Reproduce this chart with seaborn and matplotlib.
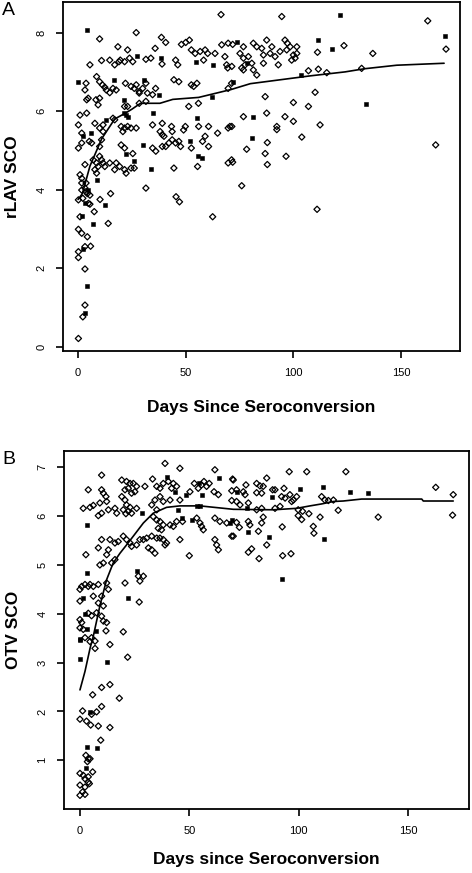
import numpy as np
import pandas as pd
import matplotlib
matplotlib.use("Agg")
import matplotlib.pyplot as plt
import seaborn as sns

# Panel A - rLAV SCO vs days since seroconversion
a_open = [
    (10, 7.84), (27, 8.0), (38.7, 7.88), (40.7, 7.75), (66.4, 8.46), (35.8, 7.6), (48, 7.7), (50, 7.75),
    (51.7, 7.81), (18.5, 7.64), (23, 7.56), (31.5, 7.32), (33.8, 7.35), (39, 7.2), (45.3, 7.3), (46.3, 7.18),
    (52.6, 7.56), (54.4, 7.47), (56.7, 7.52), (59, 7.56), (60.2, 7.47), (58.3, 7.3), (63.6, 7.47), (66.7, 7.69),
    (69.7, 7.73), (69, 7.18), (69.5, 7.1), (68.2, 7.39), (5.5, 7.18), (10.9, 7.29), (14.7, 7.3), (17, 7.18),
    (19, 7.26), (19.6, 7.3), (21.6, 7.26), (23.9, 7.35), (25.4, 7.26), (3.7, 6.71), (3.2, 6.54), (8.6, 6.88),
    (10, 6.75), (11.3, 6.67), (12.4, 6.61), (13.1, 6.54), (14.7, 6.47), (16.2, 6.58), (4, 6.29), (4.7, 6.33),
    (8.3, 6.29), (10, 6.33), (9.3, 6.16), (17.7, 6.54), (22, 6.71), (24.6, 6.63), (26.1, 6.58), (27, 6.67),
    (30, 6.58), (28.4, 6.5), (31.5, 6.71), (28.4, 6.46), (32.2, 6.46), (34.6, 6.42), (36, 6.58), (44.5, 6.8),
    (46.8, 6.75), (52.6, 6.67), (53.7, 6.63), (55.2, 6.71), (69.7, 6.58), (71.3, 6.71), (21.6, 6.12), (23, 6.12),
    (16.2, 5.82), (17, 5.78), (4, 5.95), (0.9, 5.9), (7.8, 5.69), (11.6, 5.65), (0.15, 5.65), (1.7, 5.44),
    (0.15, 5.06), (1.7, 5.19), (5.2, 5.23), (6.3, 5.19), (10, 5.1), (10.9, 5.27), (10, 5.57), (11.6, 5.48),
    (20, 5.61), (21.6, 5.57), (23, 5.61), (24.6, 5.57), (27, 5.57), (20.8, 5.48), (28.4, 6.2), (31.5, 6.25),
    (34.6, 5.65), (39.1, 5.69), (38.1, 5.48), (39.1, 5.4), (39.9, 5.36), (43.4, 5.61), (43.7, 5.48), (49.8, 5.61),
    (49, 5.52), (56, 5.61), (51.4, 6.12), (55.9, 6.2), (60.6, 5.61), (64.8, 5.44), (69.7, 5.57), (70.5, 5.61),
    (59, 5.36), (57.8, 5.23), (60.6, 5.1), (20, 5.14), (21.6, 5.06), (34.6, 5.06), (36.1, 4.98), (39.1, 5.1),
    (40.7, 5.1), (42.2, 5.19), (43.7, 5.27), (45.3, 5.19), (46.8, 5.23), (47.6, 5.1), (52.6, 5.06), (25.4, 4.92),
    (10, 4.85), (10.9, 4.76), (11.6, 4.68), (12.4, 4.59), (7, 4.76), (8.6, 4.68), (9.3, 4.59), (7.8, 4.51),
    (14.7, 4.68), (17.7, 4.68), (17, 4.51), (19.3, 4.59), (21.6, 4.51), (22.3, 4.42), (24.6, 4.55), (26.1, 4.55),
    (3.2, 4.64), (0.9, 4.38), (1.7, 4.29), (3.7, 4.17), (1.7, 4.17), (3.2, 4.04), (8.6, 4.42), (44.5, 4.55),
    (55.5, 4.59), (69.7, 4.68), (71.3, 4.76), (31.5, 4.04), (1.7, 3.99), (3.7, 3.95), (4.3, 3.9), (5.5, 3.86),
    (0.15, 3.74), (2.2, 3.78), (4.8, 3.65), (5.5, 3.63), (10.2, 3.75), (15.1, 3.9), (0.9, 3.31), (7.5, 3.44),
    (14, 3.14), (0.15, 2.99), (1.7, 2.89), (4.3, 2.8), (3.2, 2.55), (5.8, 2.56), (0.15, 2.42), (0.15, 2.27),
    (3.2, 1.98), (3.2, 1.06), (2.2, 0.76), (0.15, 0.21), (45.5, 3.82), (47.1, 3.69), (62.5, 3.31), (111, 3.5),
    (94.6, 8.41), (162.4, 8.3), (170.9, 7.58), (123.5, 7.67), (136.9, 7.47), (111.2, 7.5), (71.8, 7.7),
    (76.8, 7.64), (81.4, 7.73), (83, 7.64), (85.3, 7.6), (87.6, 7.81), (90, 7.64), (96.1, 7.81), (97.2, 7.73),
    (98.5, 7.64), (101.6, 7.64), (96.9, 7.56), (75.2, 7.47), (76.8, 7.35), (79.1, 7.39), (86.1, 7.43),
    (89.2, 7.47), (91.5, 7.39), (93.8, 7.52), (100, 7.43), (101.6, 7.47), (100.8, 7.35), (99.2, 7.3),
    (77.6, 7.18), (80.7, 7.22), (76, 7.1), (76.8, 7.05), (81.4, 7.05), (86.1, 7.22), (93, 7.18), (71.4, 7.14),
    (83, 6.92), (107, 7.03), (111.6, 7.07), (115.5, 6.98), (131.7, 7.09), (86.9, 6.37), (100, 6.22), (107, 6.12),
    (110.1, 6.48), (76.8, 5.86), (87.6, 5.95), (96.1, 5.86), (100, 5.74), (92.3, 5.61), (92.3, 5.53),
    (71.4, 5.61), (112.4, 5.65), (87.9, 5.2), (103.9, 5.34), (78.3, 5.03), (86.9, 4.92), (87.9, 4.64),
    (96.6, 4.85), (71.8, 4.7), (76, 4.1), (166.1, 5.14),
]
a_filled = [
    (4.3, 8.07), (27.2, 7.4), (38.4, 7.35), (54.7, 7.26), (62.8, 7.18), (0.15, 6.75), (16.5, 6.8), (30.4, 6.8),
    (37.6, 6.42), (62, 6.37), (21.1, 6.29), (22.3, 5.9), (21.5, 5.95), (23, 5.85), (2.4, 5.36), (5.8, 5.44),
    (13.1, 5.78), (34.6, 5.95), (55.2, 5.82), (30.3, 5.14), (52.1, 5.23), (22.3, 4.92), (25.8, 4.72), (9, 4.25),
    (33.8, 4.53), (55.5, 4.85), (57.5, 4.8), (4.7, 4.0), (3.2, 3.65), (1.7, 3.33), (7.1, 3.12), (12.5, 3.61),
    (2.5, 2.5), (4.3, 1.54), (3.2, 0.85), (121.7, 8.45), (170.4, 7.92), (111.6, 7.81), (117.8, 7.58),
    (73.7, 7.75), (78.3, 7.22), (103.4, 6.92), (71.8, 6.75), (133.6, 6.18), (81.4, 5.85), (80.7, 5.31),
]
a_curve_days = [0, 2, 5.5, 11, 17, 22, 25, 29, 38, 44, 56, 71, 80, 94, 108, 116, 124, 133, 148, 170]
a_curve_sco = [3.75, 3.9, 4.6, 5.3, 5.8, 5.95, 6.05, 6.2, 6.2, 6.3, 6.35, 6.55, 6.7, 6.8, 6.9, 6.95, 7.0, 7.08, 7.17, 7.22]

# Panel B - OTV SCO vs days since seroconversion
b_open = [
    (38.9, 7.08), (45.7, 6.98), (9.9, 6.84), (3.8, 6.54), (1.5, 6.16), (4.6, 6.18), (6.1, 6.22),
    (9.9, 6.54), (10.7, 6.47), (11.9, 6.4), (12.2, 6.3), (9.1, 6.27), (13, 6.13), (8.4, 6.01), (9.9, 6.06),
    (16, 6.16), (16.8, 6.06), (19.1, 6.74), (21.3, 6.71), (22.9, 6.67), (24.4, 6.67), (25.9, 6.61),
    (22.1, 6.57), (20.6, 6.54), (23.6, 6.47), (25.1, 6.5), (19.1, 6.4), (20.6, 6.33), (21.3, 6.23),
    (22.9, 6.18), (22.1, 6.1), (21, 6.05), (23.6, 6.06), (25.9, 6.16), (19.8, 6.13), (29.7, 6.61),
    (33.2, 6.76), (35.1, 6.61), (36.6, 6.57), (38.1, 6.67), (40.4, 6.71), (42.7, 6.67), (41.9, 6.57),
    (44.2, 6.61), (34.3, 6.33), (36.6, 6.4), (38.1, 6.3), (41.2, 6.33), (32.8, 6.23), (35.1, 6.13),
    (45.7, 6.33), (50.3, 6.5), (52.3, 6.67), (54.1, 6.57), (55.6, 6.64), (56.7, 6.71), (57.9, 6.61),
    (59.1, 6.67), (61.7, 6.95), (61.3, 6.5), (63.3, 6.44), (70.1, 6.74), (71.6, 6.54), (33.5, 5.99),
    (35.1, 5.92), (36.6, 5.89), (38.1, 5.82), (35.8, 5.75), (37.3, 5.72), (41.2, 5.82), (42.7, 5.79),
    (44.2, 5.89), (46.9, 5.89), (54.9, 5.86), (55.6, 5.79), (56.4, 5.72), (53.4, 5.96), (61.7, 5.96),
    (64, 5.89), (67.1, 5.86), (61.7, 5.52), (62.5, 5.41), (63.3, 5.31), (70.1, 5.59), (72.9, 5.77),
    (13.7, 5.52), (16, 5.45), (17.5, 5.48), (13, 5.31), (12.2, 5.21), (8.4, 5.35), (9.9, 5.52), (9.1, 5.0),
    (10.7, 5.04), (14.5, 5.04), (16, 5.11), (19.8, 5.59), (21.3, 5.52), (22.9, 5.45), (23.6, 5.38),
    (25.9, 5.41), (27.4, 5.52), (29, 5.52), (30.5, 5.55), (32.8, 5.59), (35.1, 5.55), (36.6, 5.55),
    (38.1, 5.52), (39.6, 5.45), (38.9, 5.41), (31.3, 5.35), (32.8, 5.31), (34.3, 5.24), (45.7, 5.52),
    (50, 5.19), (2.7, 5.21), (0, 4.5), (0.8, 4.56), (2.3, 4.6), (3.8, 4.56), (4.6, 4.6), (6.1, 4.56),
    (8.4, 4.6), (0, 4.26), (6.1, 4.36), (9.9, 4.36), (12.2, 4.63), (13, 4.5), (20.6, 4.63), (27.1, 4.24),
    (26.7, 4.77), (29, 4.77), (27.4, 4.67), (0, 3.88), (0.8, 3.82), (3.8, 4.01), (5.3, 3.96), (7.6, 4.02),
    (8.4, 4.22), (10.7, 4.16), (9.9, 3.95), (10.7, 3.85), (12.2, 3.82), (0, 3.71), (1.5, 3.68), (11.9, 3.65),
    (19.8, 3.63), (2.3, 3.51), (5.3, 3.51), (6.9, 3.44), (13.7, 3.37), (4.6, 3.43), (6.9, 3.29), (21.8, 3.11),
    (5.8, 2.34), (9.9, 2.49), (13.7, 2.55), (18, 2.27), (1.2, 2.01), (3.0, 1.8), (5.3, 1.94), (7.6, 1.99),
    (9.9, 2.1), (0, 1.84), (4.9, 1.72), (8.4, 1.7), (13.7, 1.67), (9.5, 1.41), (2.7, 1.1), (3.8, 1.03),
    (3.4, 0.97), (4.6, 1.03), (5.8, 0.76), (0, 0.73), (1.5, 0.69), (2.3, 0.62), (3.8, 0.66), (3.8, 0.55),
    (0, 0.49), (2.3, 0.45), (4.3, 0.52), (1.2, 0.35), (0, 0.28), (2.3, 0.3),
    (95.7, 6.91), (103.7, 6.91), (121.6, 6.91), (85.4, 6.78), (69.8, 6.76), (162.7, 6.59), (170.7, 6.44),
    (170.4, 6.02), (69.4, 6.52), (74.7, 6.5), (75.9, 6.64), (75.5, 6.44), (80.8, 6.67), (82.3, 6.62),
    (83.8, 6.61), (83.1, 6.47), (80.8, 6.48), (88.1, 6.54), (89.2, 6.54), (93.3, 6.57), (92.2, 6.4),
    (93.8, 6.37), (96, 6.44), (96.8, 6.3), (97.6, 6.33), (99.1, 6.4), (110.5, 6.4), (112, 6.33),
    (113.6, 6.32), (115.9, 6.33), (69.4, 6.32), (71.6, 6.3), (73.2, 6.23), (77, 6.27), (80.8, 6.13),
    (83.1, 6.16), (89.2, 6.16), (91.5, 6.2), (99.8, 6.13), (101.8, 6.1), (104.7, 6.05), (99.8, 6.01),
    (101.4, 5.93), (109.8, 5.98), (106.7, 5.79), (107, 5.65), (118.1, 6.12), (136.4, 5.98), (71.6, 5.87),
    (77, 5.89), (77.7, 5.82), (83.1, 5.86), (83.8, 5.98), (69.4, 5.59), (81.6, 5.69), (92.5, 5.78),
    (85.4, 5.41), (77, 5.26), (78.5, 5.33), (81.9, 5.13), (92.7, 5.19), (96.5, 5.23),
]
b_filled = [
    (3.0, 5.82), (28.2, 6.06), (39.6, 6.81), (43.4, 6.5), (48.5, 6.44), (54.6, 6.67), (55.6, 6.44),
    (63.6, 6.79), (54.9, 6.21), (53.5, 6.2), (45, 6.13), (46.5, 5.96), (51.1, 5.92), (69.4, 5.92),
    (3.0, 4.84), (1.2, 4.33), (21.8, 4.33), (25.9, 4.87), (2.3, 3.99), (3.4, 3.69), (7.3, 3.65), (0, 3.49),
    (0, 3.47), (0, 3.07), (12.2, 3.02), (4.6, 1.99), (7.6, 1.24), (3.0, 1.27), (2.7, 0.83),
    (71.6, 6.5), (87.7, 6.4), (100.6, 6.55), (111, 6.59), (123.5, 6.5), (131.9, 6.47), (76.2, 6.16),
    (68.6, 5.86), (77, 5.67), (86.6, 5.57), (111.7, 5.54), (92.5, 4.71),
]
b_curve_days = [0, 2.3, 4.6, 6.1, 9.1, 12.2, 15.2, 18.3, 21.3, 24.4, 29, 33.5, 39.6, 45.7, 54.9, 70.1,
                88.4, 99.1, 105.2, 110.5, 115.9, 120.4, 128.8, 156.3, 157, 170.7]
b_curve_sco = [2.44, 2.82, 3.29, 3.54, 4.16, 4.7, 5.04, 5.24, 5.41, 5.59, 5.86, 6.06, 6.18, 6.21, 6.21, 6.14,
               6.13, 6.16, 6.21, 6.25, 6.3, 6.31, 6.35, 6.35, 6.31, 6.31]

sns.set_style("ticks")
plt.rcParams['font.family'] = ['Liberation Sans', 'DejaVu Sans']
plt.rcParams['text.color'] = 'black'
plt.rcParams['axes.labelcolor'] = 'black'
plt.rcParams['xtick.color'] = 'black'
plt.rcParams['ytick.color'] = 'black'

fig = plt.figure(figsize=(4.72, 8.73), dpi=100)
ax_a = fig.add_axes([0.1335, 0.5979, 0.8411, 0.3998])
ax_b = fig.add_axes([0.1356, 0.0733, 0.8580, 0.4104])


def draw_panel(ax, pts_open, pts_filled, cdays, csco):
    po = pd.DataFrame(pts_open, columns=["day", "sco"])
    pf = pd.DataFrame(pts_filled, columns=["day", "sco"])
    sns.scatterplot(data=po, x="day", y="sco", ax=ax, marker="D", s=10,
                    facecolor="none", edgecolor="black", linewidth=0.9)
    sns.scatterplot(data=pf, x="day", y="sco", ax=ax, marker="s", s=7,
                    color="black", edgecolor="black", linewidth=0.4)
    sns.lineplot(x=cdays, y=csco, ax=ax, color="black", lw=1.2, sort=False, estimator=None)
    for sp in ax.spines.values():
        sp.set_visible(True)
        sp.set_linewidth(1.3)
        sp.set_color("black")
    ax.set_xticks([0, 50, 100, 150])
    ax.tick_params(axis="both", length=5, width=1.2, labelsize=8, pad=7)


draw_panel(ax_a, a_open, a_filled, a_curve_days, a_curve_sco)
ax_a.set_xlim(-7.0, 177.4)
ax_a.set_ylim(-0.11, 8.78)
ax_a.set_yticks([0, 2, 4, 6, 8])
ax_a.set_yticklabels(["0", "2", "4", "6", "8"], rotation=90, va="center")
ax_a.set_xlabel("Days Since Seroconversion", fontsize=12.5, fontweight="bold")
ax_a.set_ylabel("rLAV SCO", fontsize=12.5, fontweight="bold")
ax_a.xaxis.set_label_coords(0.5, -0.163)
ax_a.xaxis.label.set_va("center")
ax_a.yaxis.set_label_coords(-0.126, 0.5)
ax_a.yaxis.label.set_va("center")

draw_panel(ax_b, b_open, b_filled, b_curve_days, b_curve_sco)
ax_b.set_xlim(-7.3, 177.9)
ax_b.set_ylim(0.0, 7.34)
ax_b.set_yticks([1, 2, 3, 4, 5, 6, 7])
ax_b.set_yticklabels([str(v) for v in range(1, 8)], rotation=90, va="center")
ax_b.set_xlabel("Days since Seroconversion", fontsize=12.5, fontweight="bold")
ax_b.set_ylabel("OTV SCO", fontsize=12.5, fontweight="bold")
ax_b.xaxis.set_label_coords(0.5, -0.14)
ax_b.xaxis.label.set_va("center")
ax_b.yaxis.set_label_coords(-0.124, 0.5)
ax_b.yaxis.label.set_va("center")

fig.text(0.004, 0.998, "A", fontsize=14, va="top", ha="left")
fig.text(0.004, 0.483, "B", fontsize=14, va="top", ha="left")

fig.savefig("out.png", dpi=100)
